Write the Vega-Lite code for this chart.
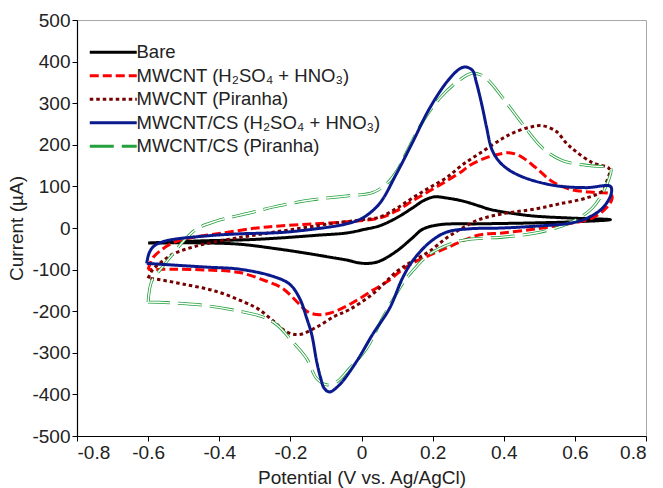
{
  "$schema": "https://vega.github.io/schema/vega-lite/v6.json",
  "autosize": {"type": "none"},
  "padding": {"left": 77, "top": 20, "right": 17, "bottom": 52},
  "width": 569,
  "height": 416,
  "background": "white",
  "config": {
    "view": {"stroke": "#a8a8a8", "strokeWidth": 1},
    "font": "Liberation Sans",
    "axis": {"grid": false, "domainColor": "#000", "domainWidth": 1.2, "tickColor": "#000", "tickSize": 5, "labelFont": "Liberation Sans", "titleFont": "Liberation Sans", "labelFontSize": 19, "titleFontSize": 19, "labelColor": "#222", "titleColor": "#222", "titleFontWeight": "normal"}
  },
  "data": {"values": [
    {"s":"Bare","i":0,"v":-0.6,"c":-36},{"s":"Bare","i":1,"v":-0.455,"c":-31},{"s":"Bare","i":2,"v":-0.315,"c":-28},{"s":"Bare","i":3,"v":-0.23,"c":-24},{"s":"Bare","i":4,"v":-0.118,"c":-17},{"s":"Bare","i":5,"v":-0.042,"c":-12},{"s":"Bare","i":6,"v":0.01,"c":-3},{"s":"Bare","i":7,"v":0.05,"c":5},{"s":"Bare","i":8,"v":0.098,"c":24},{"s":"Bare","i":9,"v":0.143,"c":48},{"s":"Bare","i":10,"v":0.175,"c":66},{"s":"Bare","i":11,"v":0.205,"c":75},{"s":"Bare","i":12,"v":0.24,"c":72},{"s":"Bare","i":13,"v":0.284,"c":65},{"s":"Bare","i":14,"v":0.331,"c":53},{"s":"Bare","i":15,"v":0.36,"c":45},{"s":"Bare","i":16,"v":0.47,"c":30},{"s":"Bare","i":17,"v":0.585,"c":24},{"s":"Bare","i":18,"v":0.7,"c":20},{"s":"Bare","i":19,"v":0.6,"c":15},{"s":"Bare","i":20,"v":0.47,"c":12},{"s":"Bare","i":21,"v":0.33,"c":10},{"s":"Bare","i":22,"v":0.22,"c":8},{"s":"Bare","i":23,"v":0.172,"c":-3},{"s":"Bare","i":24,"v":0.143,"c":-24},{"s":"Bare","i":25,"v":0.098,"c":-56},{"s":"Bare","i":26,"v":0.05,"c":-80},{"s":"Bare","i":27,"v":0.022,"c":-85},{"s":"Bare","i":28,"v":-0.006,"c":-84},{"s":"Bare","i":29,"v":-0.042,"c":-77},{"s":"Bare","i":30,"v":-0.09,"c":-70},{"s":"Bare","i":31,"v":-0.138,"c":-63},{"s":"Bare","i":32,"v":-0.23,"c":-51},{"s":"Bare","i":33,"v":-0.343,"c":-39},{"s":"Bare","i":34,"v":-0.436,"c":-36},{"s":"Bare","i":35,"v":-0.6,"c":-36},

    {"s":"MWCNT (H₂SO₄ + HNO₃)","i":0,"v":-0.6,"c":-100},{"s":"MWCNT (H₂SO₄ + HNO₃)","i":1,"v":-0.587,"c":-72},{"s":"MWCNT (H₂SO₄ + HNO₃)","i":2,"v":-0.56,"c":-51},{"s":"MWCNT (H₂SO₄ + HNO₃)","i":3,"v":-0.531,"c":-36},{"s":"MWCNT (H₂SO₄ + HNO₃)","i":4,"v":-0.483,"c":-24},{"s":"MWCNT (H₂SO₄ + HNO₃)","i":5,"v":-0.39,"c":-12},{"s":"MWCNT (H₂SO₄ + HNO₃)","i":6,"v":-0.295,"c":0},{"s":"MWCNT (H₂SO₄ + HNO₃)","i":7,"v":-0.23,"c":5},{"s":"MWCNT (H₂SO₄ + HNO₃)","i":8,"v":-0.138,"c":10},{"s":"MWCNT (H₂SO₄ + HNO₃)","i":9,"v":-0.042,"c":15},{"s":"MWCNT (H₂SO₄ + HNO₃)","i":10,"v":0.05,"c":24},{"s":"MWCNT (H₂SO₄ + HNO₃)","i":11,"v":0.098,"c":41},{"s":"MWCNT (H₂SO₄ + HNO₃)","i":12,"v":0.143,"c":65},{"s":"MWCNT (H₂SO₄ + HNO₃)","i":13,"v":0.191,"c":89},{"s":"MWCNT (H₂SO₄ + HNO₃)","i":14,"v":0.239,"c":113},{"s":"MWCNT (H₂SO₄ + HNO₃)","i":15,"v":0.284,"c":137},{"s":"MWCNT (H₂SO₄ + HNO₃)","i":16,"v":0.303,"c":150},{"s":"MWCNT (H₂SO₄ + HNO₃)","i":17,"v":0.351,"c":169},{"s":"MWCNT (H₂SO₄ + HNO₃)","i":18,"v":0.396,"c":179},{"s":"MWCNT (H₂SO₄ + HNO₃)","i":19,"v":0.415,"c":181},{"s":"MWCNT (H₂SO₄ + HNO₃)","i":20,"v":0.444,"c":174},{"s":"MWCNT (H₂SO₄ + HNO₃)","i":21,"v":0.49,"c":145},{"s":"MWCNT (H₂SO₄ + HNO₃)","i":22,"v":0.534,"c":113},{"s":"MWCNT (H₂SO₄ + HNO₃)","i":23,"v":0.582,"c":94},{"s":"MWCNT (H₂SO₄ + HNO₃)","i":24,"v":0.657,"c":85},{"s":"MWCNT (H₂SO₄ + HNO₃)","i":25,"v":0.7,"c":82},{"s":"MWCNT (H₂SO₄ + HNO₃)","i":26,"v":0.705,"c":72},{"s":"MWCNT (H₂SO₄ + HNO₃)","i":27,"v":0.688,"c":48},{"s":"MWCNT (H₂SO₄ + HNO₃)","i":28,"v":0.649,"c":24},{"s":"MWCNT (H₂SO₄ + HNO₃)","i":29,"v":0.582,"c":10},{"s":"MWCNT (H₂SO₄ + HNO₃)","i":30,"v":0.49,"c":-2},{"s":"MWCNT (H₂SO₄ + HNO₃)","i":31,"v":0.396,"c":-12},{"s":"MWCNT (H₂SO₄ + HNO₃)","i":32,"v":0.33,"c":-17},{"s":"MWCNT (H₂SO₄ + HNO₃)","i":33,"v":0.239,"c":-48},{"s":"MWCNT (H₂SO₄ + HNO₃)","i":34,"v":0.143,"c":-85},{"s":"MWCNT (H₂SO₄ + HNO₃)","i":35,"v":0.107,"c":-105},{"s":"MWCNT (H₂SO₄ + HNO₃)","i":36,"v":0.079,"c":-125},{"s":"MWCNT (H₂SO₄ + HNO₃)","i":37,"v":0.031,"c":-150},{"s":"MWCNT (H₂SO₄ + HNO₃)","i":38,"v":-0.034,"c":-184},{"s":"MWCNT (H₂SO₄ + HNO₃)","i":39,"v":-0.09,"c":-205},{"s":"MWCNT (H₂SO₄ + HNO₃)","i":40,"v":-0.126,"c":-208},{"s":"MWCNT (H₂SO₄ + HNO₃)","i":41,"v":-0.154,"c":-200},{"s":"MWCNT (H₂SO₄ + HNO₃)","i":42,"v":-0.183,"c":-176},{"s":"MWCNT (H₂SO₄ + HNO₃)","i":43,"v":-0.222,"c":-145},{"s":"MWCNT (H₂SO₄ + HNO₃)","i":44,"v":-0.267,"c":-128},{"s":"MWCNT (H₂SO₄ + HNO₃)","i":45,"v":-0.343,"c":-107},{"s":"MWCNT (H₂SO₄ + HNO₃)","i":46,"v":-0.436,"c":-101},{"s":"MWCNT (H₂SO₄ + HNO₃)","i":47,"v":-0.531,"c":-99},{"s":"MWCNT (H₂SO₄ + HNO₃)","i":48,"v":-0.6,"c":-100},

    {"s":"MWCNT (Piranha)","i":0,"v":-0.6,"c":-121},{"s":"MWCNT (Piranha)","i":1,"v":-0.587,"c":-100},{"s":"MWCNT (Piranha)","i":2,"v":-0.56,"c":-80},{"s":"MWCNT (Piranha)","i":3,"v":-0.531,"c":-63},{"s":"MWCNT (Piranha)","i":4,"v":-0.463,"c":-43},{"s":"MWCNT (Piranha)","i":5,"v":-0.371,"c":-27},{"s":"MWCNT (Piranha)","i":6,"v":-0.278,"c":-14},{"s":"MWCNT (Piranha)","i":7,"v":-0.183,"c":-2},{"s":"MWCNT (Piranha)","i":8,"v":-0.09,"c":10},{"s":"MWCNT (Piranha)","i":9,"v":0.003,"c":20},{"s":"MWCNT (Piranha)","i":10,"v":0.05,"c":26},{"s":"MWCNT (Piranha)","i":11,"v":0.098,"c":47},{"s":"MWCNT (Piranha)","i":12,"v":0.143,"c":72},{"s":"MWCNT (Piranha)","i":13,"v":0.191,"c":97},{"s":"MWCNT (Piranha)","i":14,"v":0.239,"c":121},{"s":"MWCNT (Piranha)","i":15,"v":0.284,"c":152},{"s":"MWCNT (Piranha)","i":16,"v":0.337,"c":182},{"s":"MWCNT (Piranha)","i":17,"v":0.396,"c":215},{"s":"MWCNT (Piranha)","i":18,"v":0.43,"c":230},{"s":"MWCNT (Piranha)","i":19,"v":0.472,"c":242},{"s":"MWCNT (Piranha)","i":20,"v":0.508,"c":246},{"s":"MWCNT (Piranha)","i":21,"v":0.548,"c":232},{"s":"MWCNT (Piranha)","i":22,"v":0.575,"c":205},{"s":"MWCNT (Piranha)","i":23,"v":0.6,"c":186},{"s":"MWCNT (Piranha)","i":24,"v":0.649,"c":157},{"s":"MWCNT (Piranha)","i":25,"v":0.697,"c":142},{"s":"MWCNT (Piranha)","i":26,"v":0.69,"c":113},{"s":"MWCNT (Piranha)","i":27,"v":0.677,"c":89},{"s":"MWCNT (Piranha)","i":28,"v":0.632,"c":72},{"s":"MWCNT (Piranha)","i":29,"v":0.556,"c":58},{"s":"MWCNT (Piranha)","i":30,"v":0.49,"c":46},{"s":"MWCNT (Piranha)","i":31,"v":0.396,"c":34},{"s":"MWCNT (Piranha)","i":32,"v":0.33,"c":20},{"s":"MWCNT (Piranha)","i":33,"v":0.284,"c":0},{"s":"MWCNT (Piranha)","i":34,"v":0.239,"c":-24},{"s":"MWCNT (Piranha)","i":35,"v":0.191,"c":-56},{"s":"MWCNT (Piranha)","i":36,"v":0.143,"c":-80},{"s":"MWCNT (Piranha)","i":37,"v":0.1,"c":-104},{"s":"MWCNT (Piranha)","i":38,"v":0.031,"c":-159},{"s":"MWCNT (Piranha)","i":39,"v":-0.034,"c":-196},{"s":"MWCNT (Piranha)","i":40,"v":-0.075,"c":-212},{"s":"MWCNT (Piranha)","i":41,"v":-0.126,"c":-238},{"s":"MWCNT (Piranha)","i":42,"v":-0.174,"c":-256},{"s":"MWCNT (Piranha)","i":43,"v":-0.21,"c":-250},{"s":"MWCNT (Piranha)","i":44,"v":-0.25,"c":-222},{"s":"MWCNT (Piranha)","i":45,"v":-0.29,"c":-195},{"s":"MWCNT (Piranha)","i":46,"v":-0.33,"c":-178},{"s":"MWCNT (Piranha)","i":47,"v":-0.41,"c":-152},{"s":"MWCNT (Piranha)","i":48,"v":-0.5,"c":-135},{"s":"MWCNT (Piranha)","i":49,"v":-0.57,"c":-124},{"s":"MWCNT (Piranha)","i":50,"v":-0.6,"c":-121},

    {"s":"MWCNT/CS (H₂SO₄ + HNO₃)","i":0,"v":-0.604,"c":-85},{"s":"MWCNT/CS (H₂SO₄ + HNO₃)","i":1,"v":-0.597,"c":-60},{"s":"MWCNT/CS (H₂SO₄ + HNO₃)","i":2,"v":-0.583,"c":-43},{"s":"MWCNT/CS (H₂SO₄ + HNO₃)","i":3,"v":-0.55,"c":-31},{"s":"MWCNT/CS (H₂SO₄ + HNO₃)","i":4,"v":-0.436,"c":-19},{"s":"MWCNT/CS (H₂SO₄ + HNO₃)","i":5,"v":-0.343,"c":-14},{"s":"MWCNT/CS (H₂SO₄ + HNO₃)","i":6,"v":-0.23,"c":-11},{"s":"MWCNT/CS (H₂SO₄ + HNO₃)","i":7,"v":-0.138,"c":-3},{"s":"MWCNT/CS (H₂SO₄ + HNO₃)","i":8,"v":-0.042,"c":10},{"s":"MWCNT/CS (H₂SO₄ + HNO₃)","i":9,"v":0.003,"c":24},{"s":"MWCNT/CS (H₂SO₄ + HNO₃)","i":10,"v":0.05,"c":58},{"s":"MWCNT/CS (H₂SO₄ + HNO₃)","i":11,"v":0.098,"c":130},{"s":"MWCNT/CS (H₂SO₄ + HNO₃)","i":12,"v":0.143,"c":205},{"s":"MWCNT/CS (H₂SO₄ + HNO₃)","i":13,"v":0.191,"c":287},{"s":"MWCNT/CS (H₂SO₄ + HNO₃)","i":14,"v":0.239,"c":350},{"s":"MWCNT/CS (H₂SO₄ + HNO₃)","i":15,"v":0.275,"c":382},{"s":"MWCNT/CS (H₂SO₄ + HNO₃)","i":16,"v":0.292,"c":387},{"s":"MWCNT/CS (H₂SO₄ + HNO₃)","i":17,"v":0.312,"c":379},{"s":"MWCNT/CS (H₂SO₄ + HNO₃)","i":18,"v":0.323,"c":350},{"s":"MWCNT/CS (H₂SO₄ + HNO₃)","i":19,"v":0.34,"c":290},{"s":"MWCNT/CS (H₂SO₄ + HNO₃)","i":20,"v":0.351,"c":245},{"s":"MWCNT/CS (H₂SO₄ + HNO₃)","i":21,"v":0.368,"c":186},{"s":"MWCNT/CS (H₂SO₄ + HNO₃)","i":22,"v":0.396,"c":152},{"s":"MWCNT/CS (H₂SO₄ + HNO₃)","i":23,"v":0.444,"c":126},{"s":"MWCNT/CS (H₂SO₄ + HNO₃)","i":24,"v":0.537,"c":103},{"s":"MWCNT/CS (H₂SO₄ + HNO₃)","i":25,"v":0.632,"c":97},{"s":"MWCNT/CS (H₂SO₄ + HNO₃)","i":26,"v":0.7,"c":100},{"s":"MWCNT/CS (H₂SO₄ + HNO₃)","i":27,"v":0.702,"c":82},{"s":"MWCNT/CS (H₂SO₄ + HNO₃)","i":28,"v":0.678,"c":48},{"s":"MWCNT/CS (H₂SO₄ + HNO₃)","i":29,"v":0.635,"c":24},{"s":"MWCNT/CS (H₂SO₄ + HNO₃)","i":30,"v":0.59,"c":12},{"s":"MWCNT/CS (H₂SO₄ + HNO₃)","i":31,"v":0.5,"c":5},{"s":"MWCNT/CS (H₂SO₄ + HNO₃)","i":32,"v":0.396,"c":0},{"s":"MWCNT/CS (H₂SO₄ + HNO₃)","i":33,"v":0.303,"c":-2},{"s":"MWCNT/CS (H₂SO₄ + HNO₃)","i":34,"v":0.239,"c":-10},{"s":"MWCNT/CS (H₂SO₄ + HNO₃)","i":35,"v":0.191,"c":-35},{"s":"MWCNT/CS (H₂SO₄ + HNO₃)","i":36,"v":0.143,"c":-80},{"s":"MWCNT/CS (H₂SO₄ + HNO₃)","i":37,"v":0.115,"c":-121},{"s":"MWCNT/CS (H₂SO₄ + HNO₃)","i":38,"v":0.079,"c":-193},{"s":"MWCNT/CS (H₂SO₄ + HNO₃)","i":39,"v":0.031,"c":-256},{"s":"MWCNT/CS (H₂SO₄ + HNO₃)","i":40,"v":-0.014,"c":-321},{"s":"MWCNT/CS (H₂SO₄ + HNO₃)","i":41,"v":-0.062,"c":-377},{"s":"MWCNT/CS (H₂SO₄ + HNO₃)","i":42,"v":-0.09,"c":-394},{"s":"MWCNT/CS (H₂SO₄ + HNO₃)","i":43,"v":-0.105,"c":-385},{"s":"MWCNT/CS (H₂SO₄ + HNO₃)","i":44,"v":-0.115,"c":-360},{"s":"MWCNT/CS (H₂SO₄ + HNO₃)","i":45,"v":-0.126,"c":-321},{"s":"MWCNT/CS (H₂SO₄ + HNO₃)","i":46,"v":-0.14,"c":-256},{"s":"MWCNT/CS (H₂SO₄ + HNO₃)","i":47,"v":-0.154,"c":-217},{"s":"MWCNT/CS (H₂SO₄ + HNO₃)","i":48,"v":-0.174,"c":-169},{"s":"MWCNT/CS (H₂SO₄ + HNO₃)","i":49,"v":-0.202,"c":-135},{"s":"MWCNT/CS (H₂SO₄ + HNO₃)","i":50,"v":-0.25,"c":-116},{"s":"MWCNT/CS (H₂SO₄ + HNO₃)","i":51,"v":-0.343,"c":-99},{"s":"MWCNT/CS (H₂SO₄ + HNO₃)","i":52,"v":-0.436,"c":-94},{"s":"MWCNT/CS (H₂SO₄ + HNO₃)","i":53,"v":-0.531,"c":-89},{"s":"MWCNT/CS (H₂SO₄ + HNO₃)","i":54,"v":-0.604,"c":-85},

    {"s":"MWCNT/CS (Piranha)","i":0,"v":-0.6,"c":-178},{"s":"MWCNT/CS (Piranha)","i":1,"v":-0.59,"c":-128},{"s":"MWCNT/CS (Piranha)","i":2,"v":-0.563,"c":-97},{"s":"MWCNT/CS (Piranha)","i":3,"v":-0.531,"c":-63},{"s":"MWCNT/CS (Piranha)","i":4,"v":-0.5,"c":-31},{"s":"MWCNT/CS (Piranha)","i":5,"v":-0.463,"c":-2},{"s":"MWCNT/CS (Piranha)","i":6,"v":-0.407,"c":17},{"s":"MWCNT/CS (Piranha)","i":7,"v":-0.315,"c":36},{"s":"MWCNT/CS (Piranha)","i":8,"v":-0.24,"c":52},{"s":"MWCNT/CS (Piranha)","i":9,"v":-0.138,"c":68},{"s":"MWCNT/CS (Piranha)","i":10,"v":-0.042,"c":77},{"s":"MWCNT/CS (Piranha)","i":11,"v":0.031,"c":85},{"s":"MWCNT/CS (Piranha)","i":12,"v":0.07,"c":106},{"s":"MWCNT/CS (Piranha)","i":13,"v":0.1,"c":138},{"s":"MWCNT/CS (Piranha)","i":14,"v":0.126,"c":181},{"s":"MWCNT/CS (Piranha)","i":15,"v":0.171,"c":254},{"s":"MWCNT/CS (Piranha)","i":16,"v":0.219,"c":311},{"s":"MWCNT/CS (Piranha)","i":17,"v":0.267,"c":350},{"s":"MWCNT/CS (Piranha)","i":18,"v":0.31,"c":372},{"s":"MWCNT/CS (Piranha)","i":19,"v":0.335,"c":368},{"s":"MWCNT/CS (Piranha)","i":20,"v":0.36,"c":352},{"s":"MWCNT/CS (Piranha)","i":21,"v":0.396,"c":314},{"s":"MWCNT/CS (Piranha)","i":22,"v":0.452,"c":251},{"s":"MWCNT/CS (Piranha)","i":23,"v":0.508,"c":193},{"s":"MWCNT/CS (Piranha)","i":24,"v":0.565,"c":162},{"s":"MWCNT/CS (Piranha)","i":25,"v":0.64,"c":150},{"s":"MWCNT/CS (Piranha)","i":26,"v":0.697,"c":145},{"s":"MWCNT/CS (Piranha)","i":27,"v":0.702,"c":140},{"s":"MWCNT/CS (Piranha)","i":28,"v":0.697,"c":121},{"s":"MWCNT/CS (Piranha)","i":29,"v":0.677,"c":82},{"s":"MWCNT/CS (Piranha)","i":30,"v":0.649,"c":48},{"s":"MWCNT/CS (Piranha)","i":31,"v":0.612,"c":24},{"s":"MWCNT/CS (Piranha)","i":32,"v":0.565,"c":5},{"s":"MWCNT/CS (Piranha)","i":33,"v":0.49,"c":-12},{"s":"MWCNT/CS (Piranha)","i":34,"v":0.396,"c":-22},{"s":"MWCNT/CS (Piranha)","i":35,"v":0.303,"c":-27},{"s":"MWCNT/CS (Piranha)","i":36,"v":0.26,"c":-35},{"s":"MWCNT/CS (Piranha)","i":37,"v":0.191,"c":-63},{"s":"MWCNT/CS (Piranha)","i":38,"v":0.143,"c":-104},{"s":"MWCNT/CS (Piranha)","i":39,"v":0.12,"c":-128},{"s":"MWCNT/CS (Piranha)","i":40,"v":0.059,"c":-217},{"s":"MWCNT/CS (Piranha)","i":41,"v":0.014,"c":-290},{"s":"MWCNT/CS (Piranha)","i":42,"v":-0.034,"c":-338},{"s":"MWCNT/CS (Piranha)","i":43,"v":-0.07,"c":-370},{"s":"MWCNT/CS (Piranha)","i":44,"v":-0.098,"c":-377},{"s":"MWCNT/CS (Piranha)","i":45,"v":-0.126,"c":-362},{"s":"MWCNT/CS (Piranha)","i":46,"v":-0.154,"c":-314},{"s":"MWCNT/CS (Piranha)","i":47,"v":-0.194,"c":-273},{"s":"MWCNT/CS (Piranha)","i":48,"v":-0.239,"c":-232},{"s":"MWCNT/CS (Piranha)","i":49,"v":-0.28,"c":-213},{"s":"MWCNT/CS (Piranha)","i":50,"v":-0.343,"c":-200},{"s":"MWCNT/CS (Piranha)","i":51,"v":-0.463,"c":-184},{"s":"MWCNT/CS (Piranha)","i":52,"v":-0.6,"c":-178}
  ]},
  "encoding": {
    "x": {"field": "v", "type": "quantitative", "scale": {"domain": [-0.8, 0.8], "nice": false, "zero": false},
      "axis": {"title": "Potential (V vs. Ag/AgCl)", "values": [-0.8,-0.6,-0.4,-0.2,0,0.2,0.4,0.6,0.8], "labelExpr": "datum.value < 0 ? '-' + format(-datum.value, '') : format(datum.value, '')", "titlePadding": 6, "labelPadding": 2}},
    "y": {"field": "c", "type": "quantitative", "scale": {"domain": [-500, 500], "nice": false, "zero": false},
      "axis": {"title": "Current (µA)", "values": [-500,-400,-300,-200,-100,0,100,200,300,400,500], "labelExpr": "datum.value < 0 ? '-' + format(-datum.value, '') : format(datum.value, '')", "titlePadding": 5, "labelPadding": 2}},
    "order": {"field": "i", "type": "quantitative"}
  },
  "layer": [
    {
      "transform": [{"filter": "datum.s != 'MWCNT/CS (H₂SO₄ + HNO₃)'"}],
      "mark": {"type": "line", "interpolate": "catmull-rom", "strokeWidth": 3, "strokeCap": "butt", "strokeJoin": "round"},
      "encoding": {
        "color": {"field": "s", "type": "nominal",
          "scale": {"domain": ["Bare","MWCNT (H₂SO₄ + HNO₃)","MWCNT (Piranha)","MWCNT/CS (H₂SO₄ + HNO₃)","MWCNT/CS (Piranha)"], "range": ["#000000","#ff0000","#760000","#0a1a8c","#24a03c"]},
          "legend": {"title": null, "orient": "none", "legendX": 27, "legendY": 23, "labelFontSize": 18.5, "labelFont": "Liberation Sans", "labelColor": "#222", "symbolType": "M-4,0H4", "symbolSize": 138, "symbolStrokeWidth": 3, "rowPadding": 4.5, "labelOffset": 14, "padding": 0, "labelLimit": 400}},
        "strokeDash": {"field": "s", "type": "nominal",
          "scale": {"domain": ["Bare","MWCNT (H₂SO₄ + HNO₃)","MWCNT (Piranha)","MWCNT/CS (H₂SO₄ + HNO₃)","MWCNT/CS (Piranha)"], "range": [[1,0],[9,4],[3.5,3],[1,0],[24,8]]},
          "legend": {"title": null}},
        "strokeWidth": {"condition": {"test": "datum.s == 'MWCNT/CS (Piranha)'", "value": 4.2}, "value": 3.2}
      }
    },
    {
      "transform": [{"filter": "datum.s == 'MWCNT/CS (Piranha)'"}],
      "mark": {"type": "line", "interpolate": "catmull-rom", "strokeWidth": 1.4, "strokeCap": "butt", "color": "white", "strokeDash": [24, 8]},
      "encoding": {}
    },
    {
      "transform": [{"filter": "datum.s == 'MWCNT/CS (H₂SO₄ + HNO₃)'"}],
      "mark": {"type": "line", "interpolate": "catmull-rom", "strokeWidth": 3, "strokeCap": "butt", "strokeJoin": "round"},
      "encoding": {
        "color": {"field": "s", "type": "nominal"},
        "strokeDash": {"field": "s", "type": "nominal"}
      }
    }
  ]
}
